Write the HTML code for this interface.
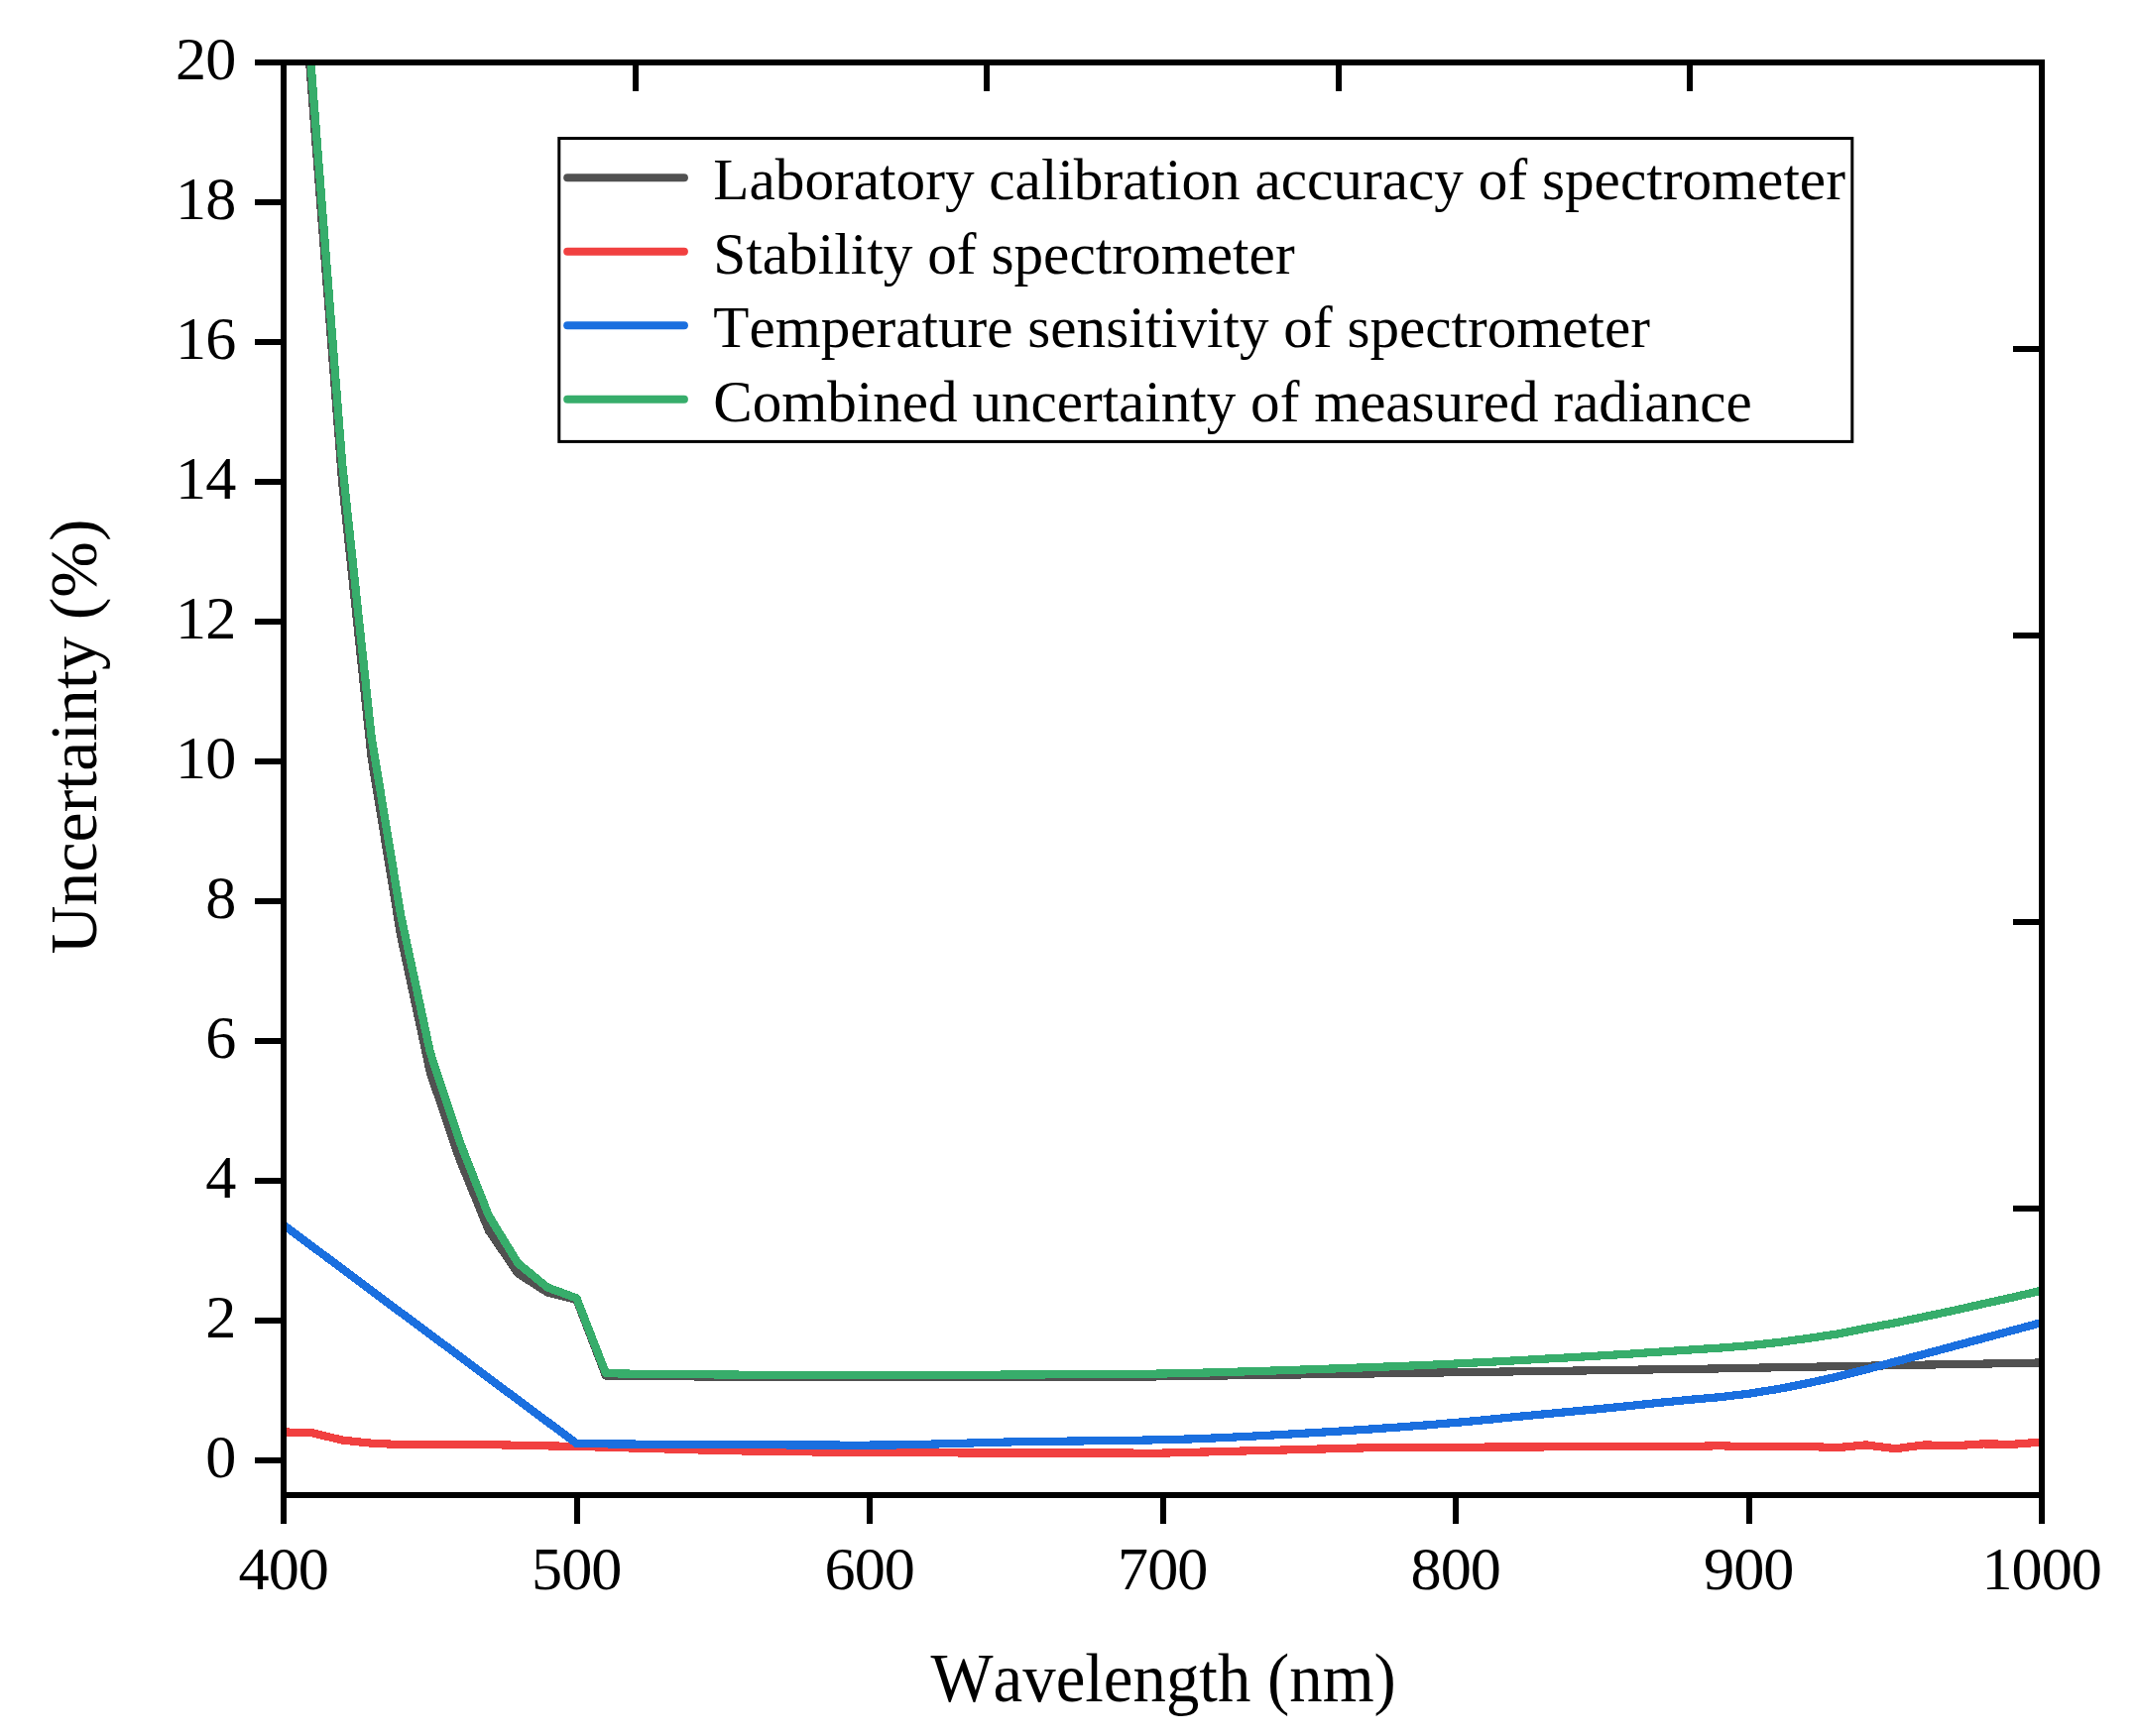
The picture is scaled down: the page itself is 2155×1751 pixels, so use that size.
<!DOCTYPE html>
<html lang="en"><head><meta charset="utf-8"><title>Uncertainty vs Wavelength</title>
<style>
html,body{margin:0;padding:0;background:#fff;}
body{width:2155px;height:1751px;overflow:hidden;}
svg{display:block;}
svg text{font-kerning:none;font-variant-ligatures:none;}
</style></head><body>
<svg width="2155" height="1751" viewBox="0 0 2155 1751">
<rect x="0" y="0" width="2155" height="1751" fill="#fff"/>
<defs><clipPath id="plot"><rect x="286.0" y="63.0" width="1773.0" height="1445.0"/></clipPath></defs>
<g clip-path="url(#plot)" fill="none" stroke-width="8.2" stroke-linejoin="round" stroke-linecap="butt" shape-rendering="crispEdges">
<path d="M286.0,-280.3 L315.6,107.6 L345.1,485.9 L374.6,763.9 L404.2,944.0 L433.8,1081.7 L463.3,1168.8 L492.9,1241.2 L522.4,1284.4 L552.0,1303.5 L581.5,1310.9 L611.0,1387.8 L640.6,1388.2 L670.1,1388.3 L699.7,1388.4 L729.2,1388.5 L758.8,1388.6 L788.4,1388.8 L817.9,1388.9 L847.5,1389.0 L877.0,1389.1 L906.5,1389.1 L936.1,1389.0 L965.6,1389.0 L995.2,1388.9 L1024.8,1388.9 L1054.3,1388.9 L1083.8,1388.8 L1113.4,1388.8 L1143.0,1388.8 L1172.5,1388.3 L1202.0,1387.9 L1231.6,1387.5 L1261.2,1387.1 L1290.7,1386.7 L1320.2,1386.3 L1349.8,1385.9 L1379.3,1385.5 L1408.9,1385.1 L1438.5,1384.7 L1468.0,1384.2 L1497.5,1383.8 L1527.1,1383.4 L1556.7,1383.0 L1586.2,1382.6 L1615.8,1382.2 L1645.3,1381.7 L1674.8,1381.3 L1704.4,1380.9 L1734.0,1380.4 L1763.5,1379.8 L1793.0,1379.3 L1822.6,1378.8 L1852.2,1378.2 L1881.7,1377.7 L1911.2,1377.2 L1940.8,1376.6 L1970.3,1376.1 L1999.9,1375.6 L2029.5,1375.0 L2059.0,1374.5" stroke="#515151"/>
<path d="M286.0,1444.4 L315.6,1445.4 L345.1,1452.6 L374.6,1455.7 L404.2,1457.1 L433.8,1457.1 L463.3,1457.1 L492.9,1457.1 L522.4,1457.8 L552.0,1458.4 L581.5,1458.9 L611.0,1459.7 L640.6,1460.6 L670.1,1461.4 L699.7,1462.3 L729.2,1463.1 L758.8,1463.6 L788.4,1464.0 L817.9,1464.4 L847.5,1464.8 L877.0,1465.2 L906.5,1465.3 L936.1,1465.3 L965.6,1465.4 L995.2,1465.4 L1024.8,1465.4 L1054.3,1465.5 L1083.8,1465.5 L1113.4,1465.5 L1143.0,1465.6 L1172.5,1465.6 L1202.0,1464.8 L1231.6,1464.1 L1261.2,1463.3 L1290.7,1462.6 L1320.2,1461.8 L1349.8,1461.1 L1379.3,1460.3 L1408.9,1460.1 L1438.5,1460.0 L1468.0,1459.8 L1497.5,1459.6 L1527.1,1459.5 L1556.7,1459.4 L1586.2,1459.3 L1615.8,1459.2 L1645.3,1459.1 L1674.8,1459.1 L1704.4,1459.0 L1734.0,1458.2 L1763.5,1459.3 L1793.0,1458.9 L1822.6,1458.9 L1852.2,1460.2 L1881.7,1457.4 L1911.2,1461.2 L1940.8,1457.4 L1970.3,1458.3 L1999.9,1456.4 L2029.5,1456.8 L2059.0,1454.5" stroke="#F14040"/>
<path d="M286.0,1235.7 L315.6,1257.7 L345.1,1279.8 L374.6,1301.8 L404.2,1323.9 L433.8,1345.9 L463.3,1367.9 L492.9,1390.0 L522.4,1412.0 L552.0,1434.0 L581.5,1456.1 L611.0,1456.4 L640.6,1456.6 L670.1,1456.8 L699.7,1456.9 L729.2,1457.1 L758.8,1457.2 L788.4,1457.4 L817.9,1457.5 L847.5,1457.6 L877.0,1457.6 L906.5,1457.4 L936.1,1456.7 L965.6,1455.9 L995.2,1455.0 L1024.8,1454.3 L1054.3,1453.9 L1083.8,1453.5 L1113.4,1453.2 L1143.0,1452.8 L1172.5,1452.2 L1202.0,1451.4 L1231.6,1450.2 L1261.2,1448.7 L1290.7,1447.1 L1320.2,1445.4 L1349.8,1443.6 L1379.3,1441.7 L1408.9,1439.6 L1438.5,1437.4 L1468.0,1434.9 L1497.5,1432.2 L1527.1,1429.2 L1556.7,1426.4 L1586.2,1423.6 L1615.8,1420.8 L1645.3,1417.8 L1674.8,1414.7 L1704.4,1411.8 L1734.0,1409.2 L1763.5,1405.7 L1793.0,1401.0 L1822.6,1395.2 L1852.2,1388.8 L1881.7,1381.3 L1911.2,1373.5 L1940.8,1365.7 L1970.3,1357.8 L1999.9,1349.9 L2029.5,1341.9 L2059.0,1334.0" stroke="#1A6FDF"/>
<path d="M286.0,-296.6 L315.6,90.5 L345.1,467.0 L374.6,743.3 L404.2,923.1 L433.8,1061.3 L463.3,1150.8 L492.9,1226.2 L522.4,1274.2 L552.0,1298.5 L581.5,1309.4 L611.0,1385.2 L640.6,1385.7 L670.1,1386.0 L699.7,1386.2 L729.2,1386.5 L758.8,1386.7 L788.4,1386.8 L817.9,1387.0 L847.5,1387.2 L877.0,1387.4 L906.5,1387.3 L936.1,1387.1 L965.6,1386.9 L995.2,1386.7 L1024.8,1386.5 L1054.3,1386.4 L1083.8,1386.3 L1113.4,1386.2 L1143.0,1386.0 L1172.5,1385.5 L1202.0,1384.9 L1231.6,1384.1 L1261.2,1383.2 L1290.7,1382.3 L1320.2,1381.3 L1349.8,1380.3 L1379.3,1379.2 L1408.9,1378.1 L1438.5,1376.9 L1468.0,1375.5 L1497.5,1374.0 L1527.1,1372.4 L1556.7,1370.7 L1586.2,1369.1 L1615.8,1367.3 L1645.3,1365.5 L1674.8,1363.5 L1704.4,1361.5 L1734.0,1359.6 L1763.5,1357.3 L1793.0,1354.0 L1822.6,1350.0 L1852.2,1345.6 L1881.7,1339.8 L1911.2,1334.3 L1940.8,1328.0 L1970.3,1321.8 L1999.9,1315.1 L2029.5,1308.6 L2059.0,1301.6" stroke="#37AD6B"/>
</g>
<g stroke="#000" stroke-width="6" fill="none" stroke-linecap="butt" shape-rendering="crispEdges">
<path d="M257.0,63.0 H2062.0"/>
<path d="M283.0,1508.0 H2062.0"/>
<path d="M286.0,60.0 V1537.0"/>
<path d="M2059.0,60.0 V1537.0"/>
<path d="M257.0,1473.0 H286.0 M257.0,1332.0 H286.0 M257.0,1191.0 H286.0 M257.0,1050.0 H286.0 M257.0,909.0 H286.0 M257.0,768.0 H286.0 M257.0,627.0 H286.0 M257.0,486.0 H286.0 M257.0,345.0 H286.0 M257.0,204.0 H286.0 "/>
<path d="M581.5,1508.0 V1537.0 M877.0,1508.0 V1537.0 M1172.5,1508.0 V1537.0 M1468.0,1508.0 V1537.0 M1763.5,1508.0 V1537.0 "/>
<path d="M640.6,63.0 V92.0 M995.2,63.0 V92.0 M1349.8,63.0 V92.0 M1704.4,63.0 V92.0 "/>
<path d="M2030.0,352.0 H2059.0 M2030.0,641.0 H2059.0 M2030.0,930.0 H2059.0 M2030.0,1219.0 H2059.0 "/>
</g>
<g font-family="'Liberation Serif', 'Times New Roman', serif" fill="#000" style="font-kerning:none">
<text transform="translate(237.30,1489.90) scale(1,1)" font-size="62.2" text-anchor="end" letter-spacing="-1">0</text>
<text transform="translate(237.30,1348.90) scale(1,1)" font-size="62.2" text-anchor="end" letter-spacing="-1">2</text>
<text transform="translate(237.30,1207.90) scale(1,1)" font-size="62.2" text-anchor="end" letter-spacing="-1">4</text>
<text transform="translate(237.30,1066.90) scale(1,1)" font-size="62.2" text-anchor="end" letter-spacing="-1">6</text>
<text transform="translate(237.30,925.90) scale(1,1)" font-size="62.2" text-anchor="end" letter-spacing="-1">8</text>
<text transform="translate(237.30,784.90) scale(1,1)" font-size="62.2" text-anchor="end" letter-spacing="-1">10</text>
<text transform="translate(237.30,643.90) scale(1,1)" font-size="62.2" text-anchor="end" letter-spacing="-1">12</text>
<text transform="translate(237.30,502.90) scale(1,1)" font-size="62.2" text-anchor="end" letter-spacing="-1">14</text>
<text transform="translate(237.30,361.90) scale(1,1)" font-size="62.2" text-anchor="end" letter-spacing="-1">16</text>
<text transform="translate(237.30,220.90) scale(1,1)" font-size="62.2" text-anchor="end" letter-spacing="-1">18</text>
<text transform="translate(237.30,79.90) scale(1,1)" font-size="62.2" text-anchor="end" letter-spacing="-1">20</text>
<text transform="translate(285.70,1602.60) scale(1,1)" font-size="62.2" text-anchor="middle" letter-spacing="-1">400</text>
<text transform="translate(581.20,1602.60) scale(1,1)" font-size="62.2" text-anchor="middle" letter-spacing="-1">500</text>
<text transform="translate(876.70,1602.60) scale(1,1)" font-size="62.2" text-anchor="middle" letter-spacing="-1">600</text>
<text transform="translate(1172.20,1602.60) scale(1,1)" font-size="62.2" text-anchor="middle" letter-spacing="-1">700</text>
<text transform="translate(1467.70,1602.60) scale(1,1)" font-size="62.2" text-anchor="middle" letter-spacing="-1">800</text>
<text transform="translate(1763.20,1602.60) scale(1,1)" font-size="62.2" text-anchor="middle" letter-spacing="-1">900</text>
<text transform="translate(2058.70,1602.60) scale(1,1)" font-size="62.2" text-anchor="middle" letter-spacing="-1">1000</text>
<text transform="translate(1173.20,1716.10) scale(0.956,1)" font-size="69.9" text-anchor="middle">Wavelength (nm)</text>
<text transform="translate(97.10,743.00) rotate(-90) scale(1.0055,1)" font-size="67.5" text-anchor="middle">Uncertainty (%)</text>
<rect x="563.8" y="139.5" width="1304.0" height="305.9" fill="#fff" stroke="#000" stroke-width="3"/>
<line x1="572.2" x2="689.9" y1="179.2" y2="179.2" stroke="#515151" stroke-width="8" stroke-linecap="round"/>
<text transform="translate(719.30,201.40) scale(0.986,1)" font-size="60.1" text-anchor="start">Laboratory calibration accuracy of spectrometer</text>
<line x1="572.2" x2="689.9" y1="253.7" y2="253.7" stroke="#F14040" stroke-width="8" stroke-linecap="round"/>
<text transform="translate(719.30,275.90) scale(0.987,1)" font-size="60.1" text-anchor="start">Stability of spectrometer</text>
<line x1="572.2" x2="689.9" y1="328.2" y2="328.2" stroke="#1A6FDF" stroke-width="8" stroke-linecap="round"/>
<text transform="translate(719.30,350.40) scale(0.9848,1)" font-size="60.1" text-anchor="start">Temperature sensitivity of spectrometer</text>
<line x1="572.2" x2="689.9" y1="402.7" y2="402.7" stroke="#37AD6B" stroke-width="8" stroke-linecap="round"/>
<text transform="translate(719.30,424.90) scale(0.9838,1)" font-size="60.1" text-anchor="start">Combined uncertainty of measured radiance</text>
</g>
</svg>
</body></html>
